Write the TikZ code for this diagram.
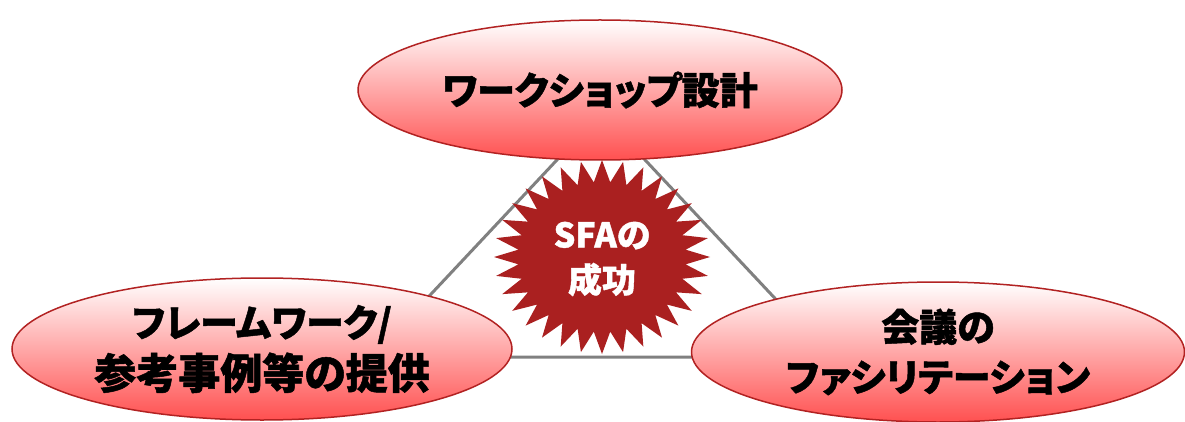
\documentclass[tikz,border=0pt]{standalone}
\usepackage{fontspec}
\newfontfamily\cjk{Noto Sans CJK JP}[RawFeature=+palt, BoldFeatures={FakeBold=1.2}]
\usetikzlibrary{shapes.geometric}
\definecolor{bordred}{RGB}{178,34,34}
\definecolor{fillred}{RGB}{255,80,80}
\definecolor{burstred}{RGB}{170,32,32}
\definecolor{trigray}{RGB}{128,128,128}
\begin{document}
\begin{tikzpicture}[x=1pt,y=-1pt,
  bubble/.style={ellipse, draw=bordred, line width=1.5pt, top color=white, bottom color=fillred,
    font=\cjk\bfseries\fontsize{38}{50}\selectfont, align=center, inner sep=0pt},
  triline/.style={draw=trigray, line width=3pt},
  bursttext/.style={text=white, font=\cjk\bfseries\fontsize{34}{45}\selectfont, align=center, inner sep=0pt}]
\useasboundingbox (0,0) rectangle (1185,422);
% triangle
\coordinate (A) at (601,113);
\coordinate (B) at (372,357);
\coordinate (C) at (830,357);
\draw[triline] (A) -- (B) -- (C) -- cycle;
% starburst
\fill[burstred] plot[samples at={0,...,63}, variable=\k]
  ({602+(96+12*cos(180*\k))*cos(\k*5.625)}, {257+(86+11*cos(180*\k))*sin(\k*5.625)}) -- cycle;
\node[bursttext] (sfa) at (602,259) {SFAの\\成功};
% ellipses
\node[bubble, minimum width=484pt, minimum height=140pt] (top) at (600,90) {ワークショップ設計};
\node[bubble, minimum width=500pt, minimum height=142pt] (left) at (262,349)
  {フレームワーク/\\[2pt]{\fontsize{42}{50}\selectfont 参考事例等の提供}};
\node[bubble, minimum width=493pt, minimum height=140pt] (right) at (938,352) {会議の\\ファシリテーション};
\end{tikzpicture}
\end{document}
